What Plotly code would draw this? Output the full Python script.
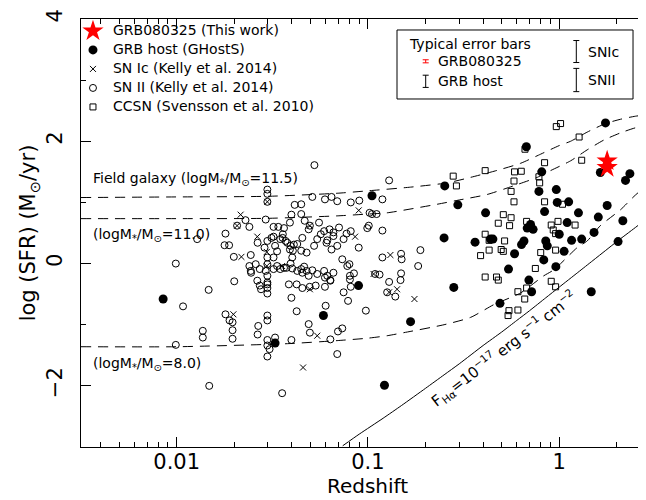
import math
import plotly.graph_objects as go

# ---------------- data ----------------
sn2_z = [0.0525, 0.0298, 0.0298, 0.0298, 0.0414, 0.0448, 0.0512, 0.0596, 0.0645, 0.0691, 0.0813, 0.0901,
         0.102, 0.105, 0.111, 0.129, 0.119,
         0.0229, 0.0207, 0.0240, 0.0292, 0.0321, 0.0340, 0.0364, 0.0391, 0.0398, 0.0448, 0.0467, 0.0497,
         0.0555, 0.059, 0.0630, 0.0660, 0.0490, 0.101, 0.0992, 0.119, 0.0813, 0.0773, 0.0706, 0.0180, 0.0128,
         0.0178, 0.0188, 0.0265, 0.0288, 0.0298, 0.0313, 0.0321, 0.0327, 0.0348, 0.0358, 0.0359, 0.0371,
         0.0379, 0.0391, 0.0394, 0.0410, 0.0405, 0.0427, 0.0454, 0.0448, 0.0478, 0.0523, 0.0543, 0.0567,
         0.0613, 0.0660, 0.0607, 0.0691, 0.0645, 0.0746, 0.0895, 0.0734, 0.0800, 0.149, 0.150, 0.119, 0.188,
         0.0199, 0.0244, 0.0321, 0.0335, 0.0402, 0.0298, 0.0394, 0.0335, 0.0364, 0.0259, 0.0272, 0.0245,
         0.0240, 0.0244, 0.0298, 0.0292, 0.0298, 0.0298, 0.0321, 0.0348, 0.0375, 0.0402, 0.0427, 0.0448,
         0.0464, 0.0478, 0.0512, 0.0454, 0.049, 0.0543, 0.059, 0.0613, 0.066, 0.078, 0.0805, 0.0845, 0.0636,
         0.0596, 0.109, 0.149, 0.148, 0.115, 0.183, 0.0099, 0.0200,
         0.0264, 0.0272, 0.0276, 0.0298, 0.0298, 0.0298, 0.0386, 0.0424, 0.0454, 0.0496, 0.0533, 0.0596,
         0.0636, 0.0746, 0.0813, 0.0787, 0.0805, 0.129, 0.139, 0.126, 0.0147, 0.0398,
         0.0108, 0.0180, 0.0189, 0.0196, 0.0298, 0.0298, 0.0424, 0.049, 0.0601, 0.0975, 0.0267,
         0.0196, 0.0196, 0.0137, 0.0137, 0.0099, 0.0265, 0.0298, 0.0298, 0.0306, 0.0298, 0.0327, 0.0398,
         0.0497, 0.0636, 0.0697, 0.0734, 0.0691,
         0.0148, 0.0356]
sn2_sfr = [1.61, 1.21, 1.14, 1.01, 0.96, 0.97, 1.09, 1.05, 1.09, 1.02, 1.00, 1.03,
           0.83, 0.81, 0.81, 1.36, 1.05,
           0.71, 0.62, 0.60, 0.72, 0.60, 0.60, 0.58, 0.67, 0.80, 0.81, 0.70, 0.62,
           0.67, 0.53, 0.56, 0.51, 0.56, 0.62, 0.58, 0.54, 0.53, 0.49, 0.59, 0.49, 0.40,
           0.30, 0.30, 0.34, 0.26, 0.37, 0.42, 0.44, 0.29, 0.40, 0.42, 0.48, 0.37,
           0.34, 0.23, 0.29, 0.31, 0.21, 0.32, 0.42, 0.21, 0.18, 0.29, 0.40, 0.48,
           0.38, 0.45, 0.34, 0.29, 0.23, 0.40, 0.26, 0.07, -0.01, 0.16, 0.07, 0.10, 0.22,
           0.11, 0.14, 0.10, 0.20, 0.10, 0.10, 0.00, -0.04, -0.07, -0.01, -0.09, -0.15,
           -0.04, -0.12, -0.01, -0.12, -0.20, -0.31, -0.09, -0.09, -0.07, -0.08, -0.12, -0.09,
           -0.05, -0.12, -0.11, -0.15, -0.20, -0.17, -0.12, -0.20, -0.15, -0.04, -0.20, -0.16, -0.27,
           -0.23, -0.17, -0.16, -0.27, -0.18, -0.04, 0.00, -0.29,
           -0.28, -0.36, -0.42, -0.34, -0.40, -0.49, -0.34, -0.34, -0.40, -0.38, -0.36, -0.38,
           -0.28, -0.47, -0.38, -0.61, -0.26, -0.30, -0.54, -0.47, -0.43, -0.56,
           -0.70, -0.83, -0.93, -0.96, -0.85, -0.93, -0.78, -0.99, -0.69, -0.77, -1.02,
           -1.09, -1.23, -1.10, -1.21, -1.33, -1.16, -1.25, -1.34, -1.40, -1.52, -1.21, -1.25,
           -1.13, -1.24, -1.11, -1.06, -1.48,
           -2.00, -2.12]

snic_z = [0.0216, 0.0207, 0.0264, 0.0296, 0.0218, 0.0356, 0.0497, 0.0198, 0.0543, 0.0458,
          0.0857, 0.0895, 0.107, 0.131, 0.129, 0.142, 0.175, 0.0497, 0.0298, 0.0296]
snic_sfr = [0.80, 0.62, 0.44, 0.19, 0.11, -0.04, -0.42, -0.83, -1.18, -1.70,
            0.44, 0.87, -0.17, 0.14, -0.47, -0.42, -0.58, 0.62, 1.01, -0.04]

ccsn_z = [0.965, 1.016, 1.27, 1.31, 0.838, 0.662, 0.41, 0.279, 0.29, 0.584, 0.633, 0.58, 0.783, 0.79,
          0.56, 0.58, 0.838, 1.04, 0.51, 0.56, 0.48, 0.55, 0.675, 0.908, 0.985, 0.93, 0.957, 1.21,
          0.41, 0.43, 0.518, 0.388, 0.43, 0.497, 0.51, 0.80, 0.957, 0.75, 0.41, 0.47, 0.48, 0.908,
          0.957, 0.608, 0.675, 0.66, 0.546, 0.608, 0.54]
ccsn_sfr = [2.24, 2.29, 2.07, 1.69, 1.65, 1.87, 1.52, 1.43, 1.27, 1.50, 1.51, 1.35, 1.42, 1.32,
            1.18, 1.01, 1.01, 0.97, 0.80, 0.75, 0.66, 0.62, 0.69, 0.63, 0.69, 0.55, 0.49, 0.63,
            0.48, 0.38, 0.37, 0.13, 0.22, 0.23, 0.20, 0.18, 0.22, -0.08, -0.22, -0.22, -0.27, -0.29,
            -0.38, -0.46, -0.40, -0.58, -0.77, -0.76, -0.85]

grb_z = [1.745, 0.673, 0.252, 0.295, 0.81, 1.64, 2.34, 2.22, 0.783, 0.965, 0.976, 1.12, 1.78,
         0.412, 0.838, 1.26, 1.60, 1.10, 2.15, 0.708, 0.68, 0.73, 1.0, 1.52, 0.25, 0.363, 0.437,
         0.45, 0.654, 0.635, 0.85, 1.16, 1.31, 2.03, 0.866, 0.584, 1.06, 0.83, 0.543, 0.96, 0.281,
         0.694, 0.717, 0.49, 1.47, 0.105, 0.0893, 0.167, 0.0085, 0.0327, 0.0585, 0.122]
grb_sfr = [2.30, 1.91, 1.27, 0.96, 1.50, 1.49, 1.47, 1.36, 1.18, 1.21, 1.00, 1.01, 0.95,
           0.83, 0.85, 0.83, 0.76, 0.67, 0.70, 0.64, 0.58, 0.56, 0.48, 0.51, 0.42, 0.35, 0.40,
           0.40, 0.37, 0.31, 0.37, 0.38, 0.40, 0.36, 0.29, 0.16, 0.20, 0.06, -0.09, -0.05, -0.39,
           -0.27, -0.46, -0.65, -0.46, 1.11, -0.36, -0.95, -0.58, -1.30, -0.85, -1.99]

this_z = [1.78, 1.78]
this_sfr = [1.68, 1.57]

field115_z = [0.00316, 0.01, 0.03, 0.069, 0.1, 0.167, 0.26, 0.344, 0.456, 0.628, 0.8, 1.0, 1.146, 1.4, 1.745, 2.09, 2.5, 3.2]
field115_sfr = [1.08, 1.09, 1.10, 1.15, 1.19, 1.25, 1.32, 1.41, 1.51, 1.64, 1.79, 1.93, 2.0, 2.15, 2.29, 2.36, 2.41, 2.45]
field110_z = [0.00316, 0.01, 0.03, 0.069, 0.1, 0.126, 0.23, 0.3, 0.42, 0.6, 0.767, 0.9, 1.146, 1.4, 1.71, 2.1, 2.5, 3.2]
field110_sfr = [0.735, 0.735, 0.74, 0.78, 0.81, 0.83, 0.97, 1.04, 1.13, 1.29, 1.41, 1.52, 1.68, 1.86, 2.02, 2.14, 2.22, 2.28]
field80_z = [0.00316, 0.01, 0.038, 0.069, 0.1, 0.126, 0.154, 0.25, 0.344, 0.456, 0.628, 0.83, 0.94, 1.24, 1.4, 1.64, 2.09, 2.5, 3.2]
field80_sfr = [-1.36, -1.36, -1.31, -1.26, -1.22, -1.18, -1.13, -1.0, -0.88, -0.67, -0.48, -0.20, -0.10, 0.26, 0.37, 0.62, 0.88, 1.12, 1.40]

flux_z = [0.0738, 0.09, 0.12, 0.15, 0.2, 0.25, 0.3, 0.4, 0.5, 0.6, 0.7, 0.85, 1.0, 1.25, 1.5, 1.75, 2.0, 2.5, 3.2]
flux_sfr = [-2.98, -2.79, -2.53, -2.32, -2.04, -1.82, -1.64, -1.34, -1.12, -0.93, -0.77, -0.56, -0.385, -0.146, 0.05, 0.216, 0.36, 0.59, 0.85]

err_names = ["GRB080325", "GRB host", "SNIc", "SNII"]
err_sizes = [0.025, 0.10, 0.18, 0.19]

x_tickvals = [0.01, 0.1, 1]
x_ticktext = ["0.01", "0.1", "1"]
x_minor = [0.004, 0.005, 0.006, 0.007, 0.008, 0.009,
           0.02, 0.03, 0.04, 0.05, 0.06, 0.07, 0.08, 0.09,
           0.2, 0.3, 0.4, 0.5, 0.6, 0.7, 0.8, 0.9, 2, 3]
y_tickvals = [-2, 0, 2, 4]
y_ticktext = ["\u22122", "0", "2", "4"]
y_minor = [-1, 1, 3]

FONT = "DejaVu Sans"

def lg(s):
    return '<span style="font-size:14px">' + s + '</span>'

fig = go.Figure()

# curves
for zs, ss in [(field115_z, field115_sfr), (field110_z, field110_sfr), (field80_z, field80_sfr)]:
    fig.add_trace(go.Scatter(x=zs, y=ss, mode="lines", line=dict(color="black", width=1, dash="10px,7px", shape="spline", smoothing=0.6),
                             showlegend=False, hoverinfo="skip"))
fig.add_trace(go.Scatter(x=flux_z, y=flux_sfr, mode="lines", line=dict(color="black", width=1, shape="spline", smoothing=0.6),
                         showlegend=False, hoverinfo="skip"))

fig.add_trace(go.Scatter(x=sn2_z, y=sn2_sfr, mode="markers", name=lg("SN II (Kelly et al. 2014)"), legendrank=4,
                         marker=dict(symbol="circle-open", size=7, color="black", line=dict(width=1))))
fig.add_trace(go.Scatter(x=snic_z, y=snic_sfr, mode="markers", name=lg("SN Ic (Kelly et al. 2014)"), legendrank=3,
                         marker=dict(symbol="x-thin-open", size=6, color="black", line=dict(width=1, color="black"))))
fig.add_trace(go.Scatter(x=ccsn_z, y=ccsn_sfr, mode="markers", name=lg("CCSN (Svensson et al. 2010)"), legendrank=5,
                         marker=dict(symbol="square-open", size=6, color="black", line=dict(width=1))))
fig.add_trace(go.Scatter(x=grb_z, y=grb_sfr, mode="markers", name=lg("GRB host (GHostS)"), legendrank=2,
                         marker=dict(symbol="circle", size=9, color="black")))
fig.add_trace(go.Scatter(x=this_z, y=this_sfr, mode="markers", name=lg("GRB080325 (This work)"), legendrank=1,
                         marker=dict(symbol="star", size=16, color="red", line=dict(width=0))))

# typical error bars inside the box
err_x = [0.2004, 0.2004, 1.228, 1.228]
err_y = [3.308, 2.981, 3.468, 3.002]
err_col = ["red", "black", "black", "black"]
for i in range(4):
    fig.add_trace(go.Scatter(x=[err_x[i]], y=[err_y[i]], mode="markers", marker=dict(size=0.1, color=err_col[i]),
                             error_y=dict(type="data", array=[err_sizes[i]], color=err_col[i], thickness=1, width=3),
                             showlegend=False, hoverinfo="skip"))

ann = []
def add_text(z, y, text, size=14, **kw):
    d = dict(x=math.log10(z), y=y, xref="x", yref="y", text=text, showarrow=False,
             xanchor="left", yanchor="middle", font=dict(family=FONT, size=size, color="black"))
    d.update(kw)
    ann.append(d)

add_text(0.1606, 3.596, "Typical error bars")
add_text(0.2277, 3.308, "GRB080325")
add_text(0.2277, 2.981, "GRB host")
add_text(1.385, 3.460, "SNIc")
add_text(1.385, 2.997, "SNII")
add_text(0.00356, 1.383, "Field galaxy (logM<sub>*</sub>/M<sub>\u2299</sub>=11.5)", size=14)
add_text(0.00356, 0.472, "(logM<sub>*</sub>/M<sub>\u2299</sub>=11.0)", size=14)
add_text(0.00356, -1.638, "(logM<sub>*</sub>/M<sub>\u2299</sub>=8.0)", size=14)
ann.append(dict(x=math.log10(0.514), y=-1.397, xref="x", yref="y", showarrow=False, textangle=-37.5,
                text="F<sub>H\u03b1</sub>=10<sup>\u221217</sup> erg s<sup>\u22121</sup> cm<sup>\u22122</sup>",
                font=dict(family=FONT, size=15, color="black"), xanchor="center", yanchor="middle"))

fig.update_layout(
    width=646, height=500,
    margin=dict(l=73, r=0, t=11, b=61),
    paper_bgcolor="white", plot_bgcolor="white",
    font=dict(family=FONT, color="black"),
    showlegend=True,
    legend=dict(x=-0.014, y=1.006, xanchor="left", yanchor="top", bgcolor="rgba(0,0,0,0)",
                font=dict(family=FONT, size=11, color="black"), itemsizing="trace", tracegroupgap=0),
    annotations=ann,
    shapes=[dict(type="rect", xref="paper", yref="paper", x0=0.5515, x1=0.9634, y0=0.8131, y1=0.9743,
                 line=dict(color="black", width=1))],
    xaxis=dict(type="log", range=[-2.5, 0.4953], showgrid=False, zeroline=False,
               showline=True, linecolor="black", linewidth=1, mirror="ticks",
               ticks="inside", ticklen=10, tickwidth=1, tickcolor="black",
               tickmode="array", tickvals=x_tickvals, ticktext=x_ticktext,
               tickfont=dict(family=FONT, size=21, color="black"), ticklabelstandoff=-4,
               minor=dict(ticks="inside", ticklen=5, tickwidth=1, tickcolor="black", tickmode="array", tickvals=x_minor, showgrid=False),
               title=dict(text="Redshift", font=dict(family=FONT, size=20, color="black"), standoff=5)),
    yaxis=dict(range=[-3, 4], showgrid=False, zeroline=False,
               showline=True, linecolor="black", linewidth=1, mirror="ticks",
               ticks="inside", ticklen=10, tickwidth=1, tickcolor="black",
               tickmode="array", tickvals=y_tickvals, ticktext=y_ticktext, tickangle=-90,
               tickfont=dict(family=FONT, size=21, color="black"), ticklabelstandoff=10,
               minor=dict(ticks="inside", ticklen=5, tickwidth=1, tickcolor="black", tickmode="array", tickvals=y_minor, showgrid=False),
               title=dict(text="log (SFR) (M<sub>\u2299</sub>/yr)", font=dict(family=FONT, size=21, color="black"), standoff=0)),
)

fig.write_html("out.html")
